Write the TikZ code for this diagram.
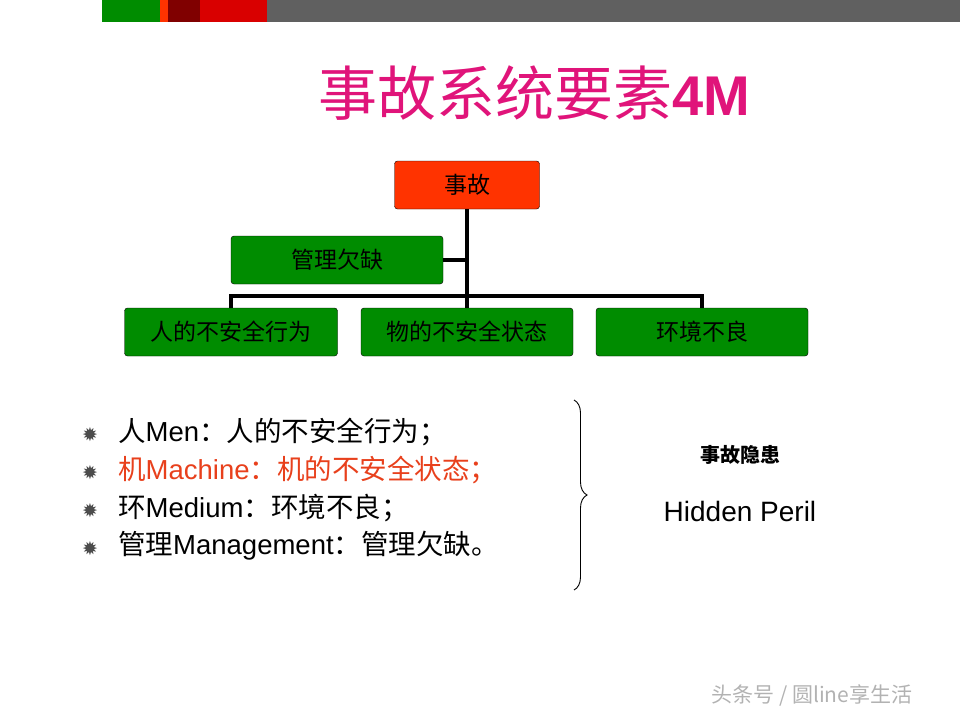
\documentclass[tikz,border=0pt]{standalone}
\usepackage{fontspec}
\setmainfont{Liberation Sans}
\newfontfamily\cjk{Noto Sans CJK SC}
\newfontfamily\dejavu{DejaVu Sans}
\usetikzlibrary{decorations.pathreplacing}
\definecolor{gr}{HTML}{008C00}
\definecolor{rd}{HTML}{FF3300}
\definecolor{mag}{HTML}{E0147A}
\definecolor{orn}{HTML}{E8401C}
\begin{document}
\begin{tikzpicture}[x=1pt,y=-1pt,
 box/.style={draw=black,rounded corners=3pt,fill=gr,minimum height=48pt,inner sep=0pt,font=\cjk\fontsize{23}{23}\selectfont},
 conn/.style={line width=3.5pt},
 item/.style={anchor=west,font=\fontsize{27.5}{27.5}\selectfont,inner sep=0pt},
 star/.style={font=\dejavu\fontsize{19}{19}\selectfont,text=gray!60!black,inner sep=0pt}]
\useasboundingbox (0,0) rectangle (960,720);
\fill[gr] (102,0) rectangle (160,22);
\fill[rd] (160,0) rectangle (168,22);
\fill[red!50!black] (168,0) rectangle (200,22);
\fill[red!85!black] (200,0) rectangle (267,22);
\fill[gray!75!black] (267,0) rectangle (960,22);
\node[text=mag,inner sep=0pt] (title) at (534,93) {{\cjk\fontsize{59}{59}\selectfont 事故系统要素}{\fontsize{56}{56}\selectfont\bfseries 4M}};
\node[box,fill=rd,minimum width=145pt] (acc) at (467,185) {事故};
\node[box,minimum width=212pt] (mgmt) at (337,260) {管理欠缺};
\node[box,minimum width=213pt] (men) at (231,332) {人的不安全行为};
\node[box,minimum width=212pt] (mac) at (467,332) {物的不安全状态};
\node[box,minimum width=212pt] (env) at (702,332) {环境不良};
\coordinate (j) at (467,296);
\draw[conn] (acc.south) -- (j);
\draw[conn] (mgmt.east) -- (mgmt.east -| acc.south);
\draw[conn] (men.north) |- (j) -| (env.north);
\draw[conn] (j) -- (mac.north);
\foreach \y/\t/\c [count=\i] in {432/{\cjk 人}Men{\cjk ：人的不安全行为；}/black,
 470/{\cjk 机}Machine{\cjk ：机的不安全状态；}/orn,
 508/{\cjk 环}Medium{\cjk ：环境不良；}/black,
 546/{\cjk 管理}Management{\cjk ：管理欠缺。}/black}{
 \node[star] (s\i) at (90,\y+3) {✹};
 \node[item,text=\c] (t\i) at (118,\y) {\t};
}
\coordinate (b1) at (574,400);
\coordinate (b2) at (574,590);
\draw[line width=0.9pt,decorate,decoration={brace,amplitude=13pt}] (b1) -- (b2);
\node[inner sep=0pt,font=\cjk\bfseries\fontsize{20}{20}\selectfont] (hz) at (740,455) {事故隐患};
\node[inner sep=0pt,font=\fontsize{28}{28}\selectfont] (hp) at (740,511) {Hidden Peril};
\node[inner sep=0pt,text=gray!60,font=\cjk\fontsize{21}{21}\selectfont] (wm) at (812,695) {头条号 / 圆line享生活};
\end{tikzpicture}
\end{document}
